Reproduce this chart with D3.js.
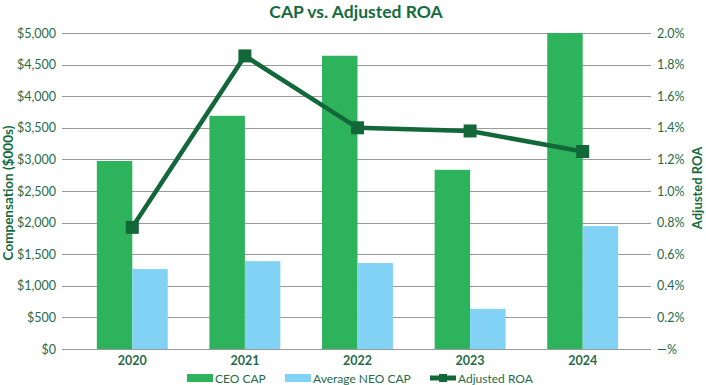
<!DOCTYPE html>
<html>
<head>
<meta charset="utf-8">
<script src="https://cdn.jsdelivr.net/npm/d3@7"></script>
<style>
  body { margin: 0; background: #fff; }
  text { font-family: Lato, "Open Sans", sans-serif; }
</style>
</head>
<body>
<svg id="chart" width="706" height="385"></svg>
<script>
var years = ["2020", "2021", "2022", "2023", "2024"];
var ceoCap = [2975, 3690, 4640, 2835, 5000];
var neoCap = [1265, 1390, 1360, 635, 1945];
var adjRoa = [0.77, 1.855, 1.40, 1.38, 1.25];
var leftTicks = [0, 500, 1000, 1500, 2000, 2500, 3000, 3500, 4000, 4500, 5000];
var rightTicks = [0, 0.2, 0.4, 0.6, 0.8, 1.0, 1.2, 1.4, 1.6, 1.8, 2.0];

var textColor = "#1f6b4a",
  ceoColor = "#2db35b",
  neoColor = "#82d2f6",
  lineColor = "#13683a";

var svg = d3.select("#chart"),
  gridLeft = 62,
  gridRight = 651,
  plotTop = 33,
  plotBottom = 349;

var x = d3.scaleBand().domain(years).range([76, 639]);
var y = d3.scaleLinear().domain([0, 5000]).range([plotBottom, plotTop]);
var y2 = d3.scaleLinear().domain([0, 2]).range([plotBottom, plotTop]);

// gridlines
svg.append("g")
  .selectAll("line")
  .data(leftTicks)
  .enter()
  .append("line")
  .attr("x1", gridLeft)
  .attr("x2", gridRight)
  .attr("y1", function(d) { return Math.round(y(d)) + 0.5; })
  .attr("y2", function(d) { return Math.round(y(d)) + 0.5; })
  .attr("stroke", "#9a9a9a")
  .attr("stroke-width", 1);

// left axis labels
var axL = svg.append("g")
  .attr("transform", "translate(" + (gridLeft - 6) + ",0)")
  .call(d3.axisLeft(y).tickValues(leftTicks).tickSize(0).tickPadding(0)
    .tickFormat(function(d) { return "$" + d3.format(",")(d); }));
axL.select(".domain").remove();
axL.selectAll("text").attr("fill", textColor).attr("font-size", 12.5).attr("font-family", "Lato");

var axR = svg.append("g")
  .attr("transform", "translate(" + (gridRight + 6) + ",0)")
  .call(d3.axisRight(y2).tickValues(rightTicks).tickSize(0).tickPadding(0)
    .tickFormat(function(d) { return d === 0 ? "—%" : d.toFixed(1) + "%"; }));
axR.select(".domain").remove();
axR.selectAll("text").attr("fill", textColor).attr("font-size", 12.5).attr("font-family", "Lato");

var axB = svg.append("g")
  .attr("transform", "translate(0," + plotBottom + ")")
  .call(d3.axisBottom(x).tickSize(0).tickPadding(7));
axB.select(".domain").remove();
axB.selectAll("text").attr("fill", textColor).attr("font-size", 12.5).attr("font-weight", "bold").attr("font-family", "Lato");

// bars
var half = x.bandwidth() * 0.315;
svg.append("g")
  .selectAll("rect")
  .data(years)
  .enter()
  .append("rect")
  .attr("x", function(d) { return x(d) + x.bandwidth() / 2 - half; })
  .attr("y", function(d, i) { return y(ceoCap[i]); })
  .attr("width", half)
  .attr("height", function(d, i) { return plotBottom - y(ceoCap[i]); })
  .attr("fill", ceoColor);

svg.append("g")
  .selectAll("rect")
  .data(years)
  .enter()
  .append("rect")
  .attr("x", function(d) { return x(d) + x.bandwidth() / 2; })
  .attr("y", function(d, i) { return y(neoCap[i]); })
  .attr("width", half)
  .attr("height", function(d, i) { return plotBottom - y(neoCap[i]); })
  .attr("fill", neoColor);

// ROA line
var line = d3.line()
  .x(function(d, i) { return x(years[i]) + x.bandwidth() / 2; })
  .y(function(d) { return y2(d); });

svg.append("path")
  .datum(adjRoa)
  .attr("d", line)
  .attr("fill", "none")
  .attr("stroke", lineColor)
  .attr("stroke-width", 4.5);

svg.append("g")
  .selectAll("rect")
  .data(adjRoa)
  .enter()
  .append("rect")
  .attr("x", function(d, i) { return x(years[i]) + x.bandwidth() / 2 - 6.5; })
  .attr("y", function(d) { return y2(d) - 6.5; })
  .attr("width", 13)
  .attr("height", 13)
  .attr("fill", lineColor);

// titles
svg.append("text")
  .text("CAP vs. Adjusted ROA")
  .attr("x", 356)
  .attr("y", 18)
  .attr("text-anchor", "middle")
  .attr("font-size", 17.5)
  .attr("font-weight", "bold")
  .attr("fill", "#146b3d");

svg.append("text")
  .text("Compensation ($000s)")
  .attr("transform", "translate(13,193) rotate(-90)")
  .attr("text-anchor", "middle")
  .attr("font-size", 13.5)
  .attr("font-weight", "bold")
  .attr("fill", "#146b3d");

svg.append("text")
  .text("Adjusted ROA")
  .attr("transform", "translate(702,188) rotate(-90)")
  .attr("text-anchor", "middle")
  .attr("font-size", 13)
  .attr("font-weight", "bold")
  .attr("fill", "#146b3d");

// legend
var legend = [
  { name: "CEO CAP", x: 187, color: ceoColor, kind: "bar" },
  { name: "Average NEO CAP", x: 285, color: neoColor, kind: "bar" },
  { name: "Adjusted ROA", x: 430, color: lineColor, kind: "line" }
];
var lg = svg.append("g").selectAll("g").data(legend).enter().append("g")
  .attr("transform", function(d) { return "translate(" + d.x + ",378)"; });
lg.filter(function(d) { return d.kind === "bar"; })
  .append("rect")
  .attr("x", 0).attr("y", -4).attr("width", 26).attr("height", 8)
  .attr("fill", function(d) { return d.color; });
lg.filter(function(d) { return d.kind === "line"; })
  .append("rect")
  .attr("x", 0).attr("y", -2.5).attr("width", 26).attr("height", 5)
  .attr("fill", function(d) { return d.color; });
lg.filter(function(d) { return d.kind === "line"; })
  .append("rect")
  .attr("x", 9).attr("y", -4).attr("width", 8).attr("height", 8)
  .attr("fill", function(d) { return d.color; });
lg.append("text")
  .text(function(d) { return d.name; })
  .attr("x", 28)
  .attr("y", 4.5)
  .attr("font-size", 12)
  .attr("fill", textColor);
</script>
</body>
</html>
